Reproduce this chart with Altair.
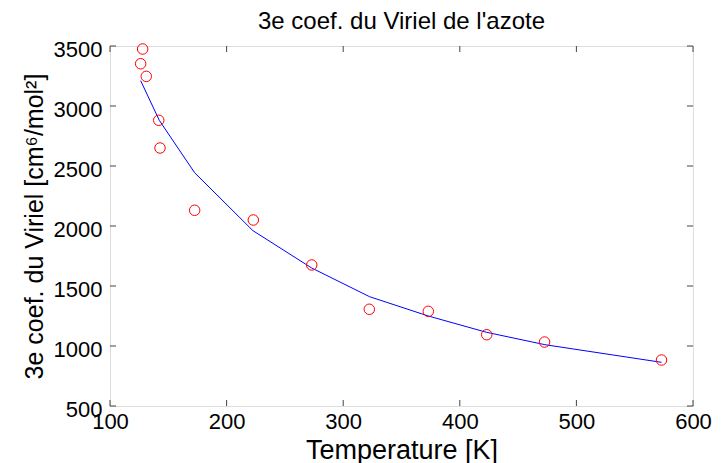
import altair as alt
import pandas as pd

# measured data (temperature K, third virial coefficient cm^6/mol^2)
T_meas = [126.3, 128.0, 131.1, 141.8, 142.9, 172.6, 222.9, 273.0, 322.4, 373.0, 423.1, 472.7, 573.0]
C_meas = [3352, 3475, 3247, 2881, 2650, 2131, 2050, 1675, 1306, 1289, 1094, 1033, 883]

# model curve
T_model = [126.3, 142.3, 172.6, 222.6, 273.0, 322.6, 373.0, 423.0, 473.0, 573.0]
C_model = [3211, 2880, 2444, 1961, 1650, 1411, 1250, 1114, 1011, 864]

x_ticks = [100, 200, 300, 400, 500, 600]
y_ticks = [500, 1000, 1500, 2000, 2500, 3000, 3500]

meas = pd.DataFrame({"T": T_meas, "C": C_meas})
model = pd.DataFrame({"T": T_model, "C": C_model})
xt = pd.DataFrame({"t": x_ticks})
yt = pd.DataFrame({"t": y_ticks})

FONT = "Liberation Sans"
W, H = 583, 360
xs = alt.Scale(domain=[100, 600], nice=False, zero=False)
ys = alt.Scale(domain=[500, 3500], nice=False, zero=False)

x_axis = alt.Axis(values=x_ticks, format="d", title="Temperature [K]", grid=False, ticks=False,
                  domain=False, labelFont=FONT, labelFontSize=22, labelColor="black",
                  labelPadding=5, titleFont=FONT, titleFontSize=27, titleFontWeight="normal",
                  titleColor="black", titlePadding=5, labelFlush=False)
y_axis = alt.Axis(values=y_ticks, format="d", title="3e coef. du Viriel [cm⁶/mol²]", grid=False, ticks=False,
                  domain=False, labelFont=FONT, labelFontSize=22, labelColor="black",
                  labelPadding=8, labelOffset=3, titleFont=FONT, titleFontSize=25,
                  titleFontWeight="normal", titleColor="black", titlePadding=6, labelFlush=False)

line = alt.Chart(model).mark_line(color="#0000ff", strokeWidth=1).encode(
    x=alt.X("T:Q", scale=xs, axis=x_axis),
    y=alt.Y("C:Q", scale=ys, axis=y_axis),
)
pts = alt.Chart(meas).mark_point(shape="circle", filled=False, color="#ff0000",
                                 size=110, strokeWidth=1, opacity=1).encode(
    x=alt.X("T:Q", scale=xs),
    y=alt.Y("C:Q", scale=ys),
)

tick_color = "#444444"
xb = alt.Chart(xt).mark_rule(color=tick_color, strokeWidth=1).encode(
    x=alt.X("t:Q", scale=xs), y=alt.value(H), y2=alt.value(H - 6))
xtop = alt.Chart(xt).mark_rule(color=tick_color, strokeWidth=1).encode(
    x=alt.X("t:Q", scale=xs), y=alt.value(0), y2=alt.value(6))
yl = alt.Chart(yt).mark_rule(color=tick_color, strokeWidth=1).encode(
    y=alt.Y("t:Q", scale=ys), x=alt.value(0), x2=alt.value(6))
yr = alt.Chart(yt).mark_rule(color=tick_color, strokeWidth=1).encode(
    y=alt.Y("t:Q", scale=ys), x=alt.value(W), x2=alt.value(W - 6))

chart = alt.layer(xb, xtop, yl, yr, line, pts).properties(
    width=W, height=H,
    title=alt.TitleParams("3e coef. du Viriel de l'azote", font=FONT, fontSize=24,
                          fontWeight="normal", color="black", offset=4),
    padding={"left": 110, "top": 46, "right": 35, "bottom": 57},
    autosize="none",
).configure_view(stroke="black", strokeWidth=1.5).configure(background="white")

chart.save("out.html", embed_options={"renderer": "svg", "actions": False})
